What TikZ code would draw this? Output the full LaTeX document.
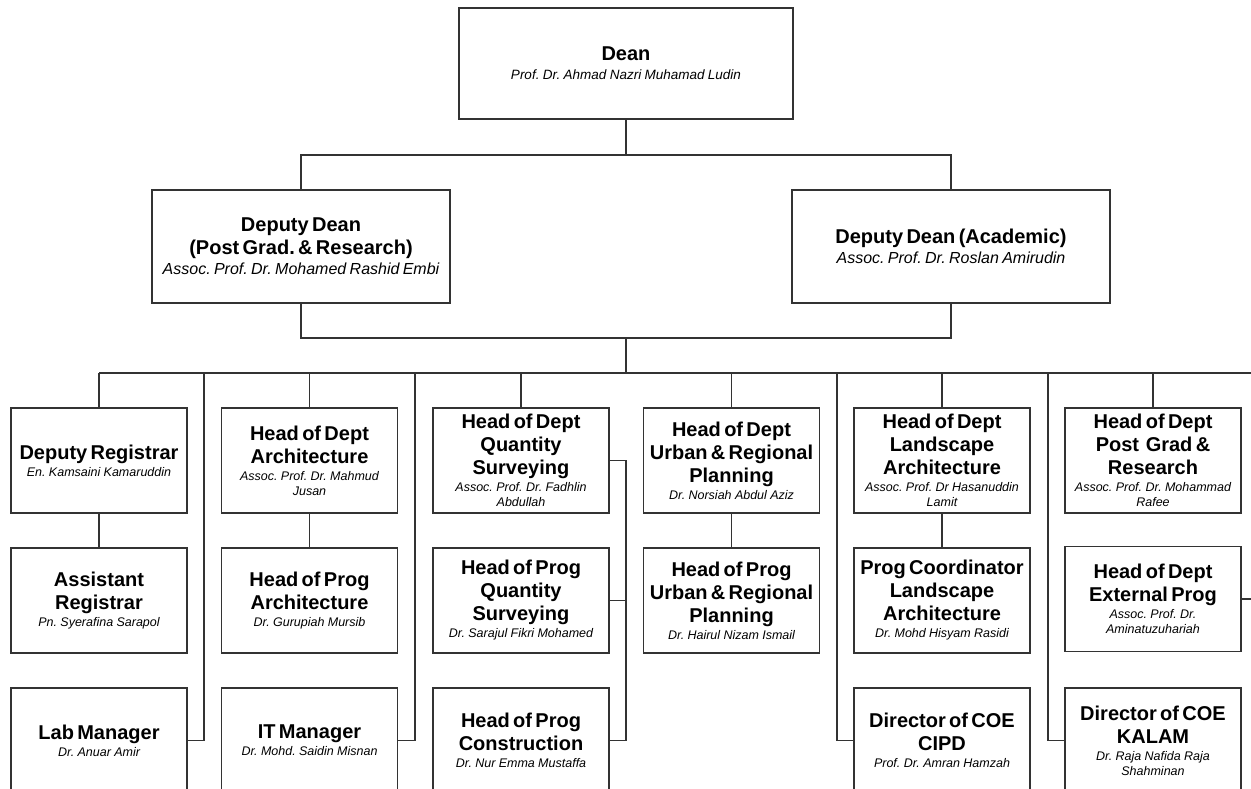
\documentclass[tikz,border=0pt]{standalone}
\usepackage{fontspec}
\setmainfont{Liberation Sans}
\frenchspacing
\newcommand{\role}[1]{{\bfseries\fontsize{20}{23}\selectfont #1\par}}
\newcommand{\who}[1]{{\itshape\fontsize{12.5}{15}\selectfont\vspace{2pt}#1\par}}
\newcommand{\bigwho}[1]{{\itshape\fontsize{16}{19}\selectfont\vspace{1pt}#1\par}}
\newcommand{\deanwho}[1]{{\itshape\fontsize{13.5}{17}\selectfont\vspace{2pt}#1\par}}
\begin{document}
\begin{tikzpicture}[x=1pt,y=-1pt,
    line/.style={draw=black!80,line width=1.2pt},
    box/.style={line,fill=white,align=center,inner xsep=4pt,inner ysep=2pt},
    chief/.style={box,text width=326pt,minimum height=111pt},
    deputy/.style={box,minimum height=113pt},
    unit/.style={box,text width=168pt,minimum height=105pt}]
\useasboundingbox (0,0) rectangle (1251,789);
\clip (0,0) rectangle (1251,789);
\node[chief] (dean) at (626,63.5) {\role{Dean}\deanwho{Prof. Dr. Ahmad Nazri Muhamad Ludin}};
\node[deputy,text width=290pt] (ddpg) at (301,246.5) {\role{Deputy Dean\\(Post Grad. \& Research)}\bigwho{Assoc. Prof. Dr. Mohamed Rashid Embi}};
\node[deputy,text width=310pt] (ddac) at (951,246.5) {\role{Deputy Dean (Academic)}\bigwho{Assoc. Prof. Dr. Roslan Amirudin}};
\node[unit] (dreg) at (99,460.5) {\role{Deputy Registrar}\who{En. Kamsaini Kamaruddin}};
\node[unit] (areg) at (99,600.5) {\role{Assistant\\Registrar}\who{Pn. Syerafina Sarapol}};
\node[unit] (labm) at (99,740.5) {\role{Lab Manager}\who{Dr. Anuar Amir}};
\node[unit] (hdarc) at (309.5,460.5) {\role{Head of Dept\\Architecture}\who{Assoc. Prof. Dr. Mahmud\\Jusan}};
\node[unit] (hparc) at (309.5,600.5) {\role{Head of Prog\\Architecture}\who{Dr. Gurupiah Mursib}};
\node[unit] (itm) at (309.5,740.5) {\role{IT Manager}\who{Dr. Mohd. Saidin Misnan}};
\node[unit] (hdqs) at (521,460.5) {\role{Head of Dept\\Quantity\\Surveying}\who{Assoc. Prof. Dr. Fadhlin\\Abdullah}};
\node[unit] (hpqs) at (521,600.5) {\role{Head of Prog\\Quantity\\Surveying}\who{Dr. Sarajul Fikri Mohamed}};
\node[unit] (hpcon) at (521,740.5) {\role{Head of Prog\\Construction}\who{Dr. Nur Emma Mustaffa}};
\node[unit] (hdurp) at (731.5,460.5) {\role{Head of Dept\\Urban \& Regional\\Planning}\who{Dr. Norsiah Abdul Aziz}};
\node[unit] (hpurp) at (731.5,600.5) {\role{Head of Prog\\Urban \& Regional\\Planning}\who{Dr. Hairul Nizam Ismail}};
\node[unit] (hdla) at (942,460.5) {\role{Head of Dept\\Landscape\\Architecture}\who{Assoc. Prof. Dr Hasanuddin\\Lamit}};
\node[unit] (pcla) at (942,600.5) {\role{Prog Coordinator\\Landscape\\Architecture}\who{Dr. Mohd Hisyam Rasidi}};
\node[unit] (cipd) at (942,740.5) {\role{Director of COE\\CIPD}\who{Prof. Dr. Amran Hamzah}};
\node[unit] (hdpg) at (1153,460.5) {\role{Head of Dept\\Post~~Grad \&\\Research}\who{Assoc. Prof. Dr. Mohammad\\Rafee}};
\node[unit] (hdext) at (1153,599) {\role{Head of Dept\\External Prog}\who{Assoc. Prof. Dr.\\Aminatuzuhariah}};
\node[unit] (kalam) at (1153,740.5) {\role{Director of COE\\KALAM}\who{Dr. Raja Nafida Raja\\Shahminan}};
\coordinate (topbus) at (626,155);
\coordinate (midbus) at (626,338);
\coordinate (busC) at (626,373);
\coordinate (busL) at (99,373);
\coordinate (busR) at (1253,373);
\coordinate (jA) at (204,373);
\coordinate (jB) at (415,373);
\coordinate (jC) at (837,373);
\coordinate (jD) at (1048,373);
\coordinate (jE) at (1253,373);
\coordinate (qsbar) at (626,460.5);
\draw[line] (dean.south) -- (topbus);
\draw[line] (ddpg.north) |- (topbus) -| (ddac.north);
\draw[line] (ddpg.south) |- (midbus) -| (ddac.south);
\draw[line] (midbus) -- (busC);
\draw[line] (busL) -- (busR);
\foreach \n in {dreg,hdarc,hdqs,hdurp,hdla,hdpg}
  \draw[line] (\n.north) -- (\n.north |- busL);
\draw[line] (dreg) -- (areg);
\draw[line] (hdarc) -- (hparc);
\draw[line] (hdurp) -- (hpurp);
\draw[line] (hdla) -- (pcla);
\draw[line] (labm.east) -| (jA);
\draw[line] (itm.east) -| (jB);
\draw[line] (cipd.west) -| (jC);
\draw[line] (kalam.west) -| (jD);
\draw[line] (hdext.east) -| (jE);
\draw[line] (hdqs.east) -- (qsbar) |- (hpcon.east);
\draw[line] (hpqs.east) -- (hpqs.east -| qsbar);
\end{tikzpicture}
\end{document}
